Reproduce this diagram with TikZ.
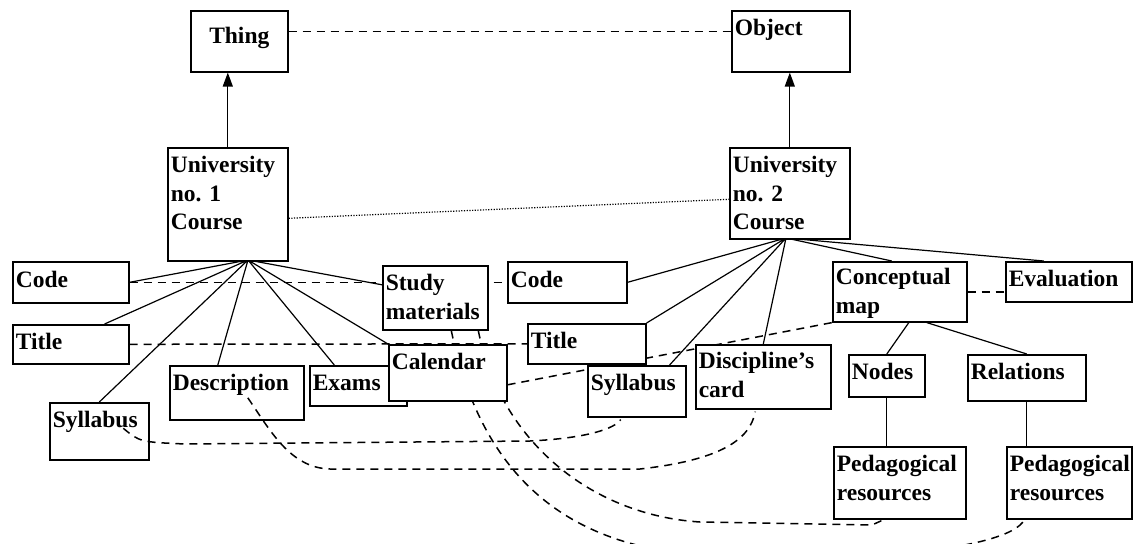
\documentclass[tikz,border=0pt]{standalone}
\usepackage{fontspec}
\setmainfont{Liberation Serif}
\usetikzlibrary{arrows.meta,backgrounds}
\tikzset{
  box/.style={draw, line width=1.6pt, fill=white, anchor=north west,
    inner xsep=3pt, inner ysep=0pt, font=\bfseries\fontsize{23.5}{28.5}\selectfont},
  link/.style={line width=1.2pt},
  corr/.style={line width=1.5pt, dash pattern=on 8pt off 6pt},
  same/.style={line width=1.2pt, dash pattern=on 1.2pt off 1.5pt},
  isa/.style={line width=1.3pt, -{Triangle[length=14pt,width=10pt]}},
}
% text box: [baseline of first line]{width}{height}{text}
\newcommand{\boxtext}[4][25]{\parbox[c][#3pt][t]{#2pt}{\raggedright\rule{0pt}{#1pt}#4}}
\begin{document}
\begin{tikzpicture}[x=1pt,y=-1pt]
\useasboundingbox (0,0) rectangle (1134,543);
\clip (0,0) rectangle (1134,543);
% ontologies
\node[box] (thing) at (190,10) {\boxtext[33]{91}{61}{\centering Thing}};
\node[box] (object) at (731,10) {\boxtext{112}{61}{Object}};
\node[box] (univ1) at (167,147) {\boxtext{114}{113}{University\\no. 1\\Course}};
\node[box] (univ2) at (729,147) {\boxtext{114}{91}{University\\no. 2\\Course}};
% course 1
\node[box] (code1) at (12,261) {\boxtext[26]{110}{41}{Code}};
\node[box] (title1) at (12,324) {\boxtext{110}{39}{Title}};
\node[box] (syl1) at (49,402) {\boxtext{93}{57}{Syllabus}};
\node[box] (desc) at (169,365) {\boxtext{128}{54}{Description}};
\node[box] (exams) at (309,365) {\boxtext{91}{40}{Exams}};
\node[box] (cal) at (388,344) {\boxtext{112}{56}{Calendar}};
\node[box] (study) at (382,265) {\boxtext{99}{64}{Study\\materials}};
% course 2
\node[box] (code2) at (507,261) {\boxtext[26]{113}{41}{Code}};
\node[box] (title2) at (527,323) {\boxtext{112}{40}{Title}};
\node[box] (syl2) at (587,365) {\boxtext{92}{51}{Syllabus}};
\node[box] (disc) at (695,344) {\boxtext[24]{129}{64}{Discipline's\\card}};
\node[box] (concept) at (832,261) {\boxtext[23]{128}{60}{Conceptual\\map}};
\node[box] (eval) at (1005,261) {\boxtext{120}{40}{Evaluation}};
\node[box] (nodes) at (848,354) {\boxtext{70}{42}{Nodes}};
\node[box] (rel) at (967,354) {\boxtext{112}{46}{Relations}};
\node[box] (ped1) at (833,446) {\boxtext{126}{72}{Pedagogical\\resources}};
\node[box] (ped2) at (1006,446) {\boxtext{119}{72}{Pedagogical\\resources}};
\coordinate (hub1) at (248,260);
\coordinate (hub2) at (786,238);

\begin{pgfonlayer}{background}
\draw[link] (hub1) -- (code1.east) (hub1) -- ([shift={(-25,0)}]title1.north east)
  (hub1) -- (syl1.north) (hub1) -- ([shift={(-19,0)}]desc.north)
  (hub1) -- ([shift={(-24,0)}]exams.north) (hub1) -- (cal.north west)
  (hub1) -- ([shift={(0,-13)}]study.west);
\draw[link] (hub2) -- (code2.east) (hub2) -- (title2.north east)
  (hub2) -- ([shift={(-17,0)}]syl2.north east) (hub2) -- (disc.north)
  (hub2) -- ([shift={(-8,0)}]concept.north) (hub2) -- ([shift={(-25,0)}]eval.north);
\draw[corr] (code1.east) -- (code2.west);
\draw[corr] (title1.east) -- (title2.west);
\draw[corr] ([shift={(0,12)}]cal.east) -- (concept.south west);
\draw[corr] ([shift={(16,0)}]study.south) .. controls (480,470) and (560,545) .. (700,555)
  .. controls (850,565) and (1010,550) .. ([shift={(-45,0)}]ped2.south);
\draw[corr] ([shift={(43,0)}]study.south) .. controls (500,440) and (590,515) .. (700,522)
  -- (872,525) -- ([shift={(-16,0)}]ped1.south);
\end{pgfonlayer}

\draw[isa] (univ1.north) -- (univ1.north |- thing.south);
\draw[isa] (univ2.north) -- (univ2.north |- object.south);
\draw[corr] ([shift={(0,-10)}]thing.east) -- ([shift={(0,-10)}]object.west);
\draw[same] ([shift={(0,14)}]univ1.east) -- ([shift={(0,6)}]univ2.west);
\draw[corr] (concept.east) -- (concept.east -| eval.west);
\draw[link] ([shift={(9,0)}]concept.south) -- (nodes.north);
\draw[link] ([shift={(27,0)}]concept.south) -- (rel.north);
\draw[link] (nodes.south) -- (nodes.south |- ped1.north);
\draw[link] (rel.south) -- (rel.south |- ped2.north);
\draw[corr] ([shift={(24,-3)}]syl1.center) .. controls (140,442) .. (185,444)
  -- (530,441) .. controls (590,438) and (615,428) .. ([shift={(-16,2)}]syl2.south);
\draw[corr] ([shift={(11,5)}]desc.center) .. controls (270,430) and (290,468) .. (330,469)
  -- (640,469) .. controls (720,460) and (750,440) .. ([shift={(-8,2)}]disc.south);
\end{tikzpicture}
\end{document}
